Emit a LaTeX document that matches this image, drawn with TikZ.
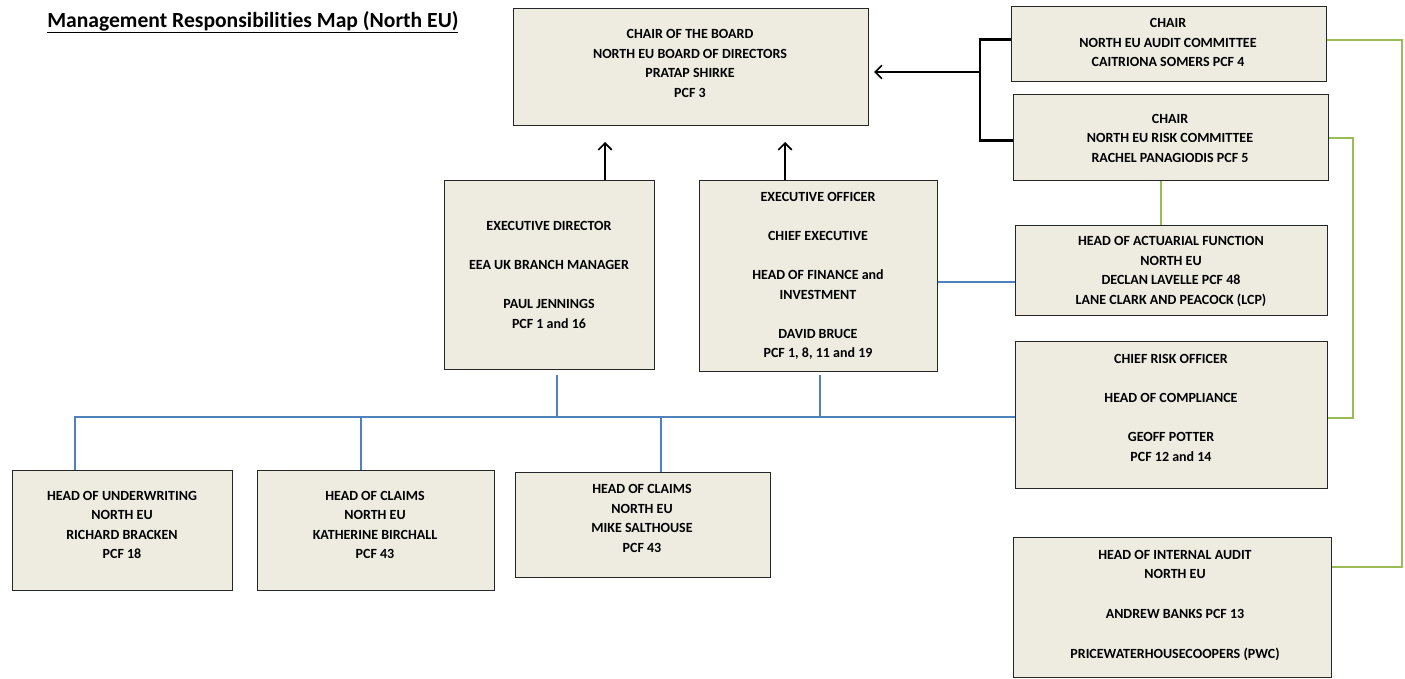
\documentclass[tikz,border=0pt]{standalone}
\usepackage{fontspec}
\setmainfont{Carlito}[Ligatures={NoCommon}]
\usetikzlibrary{arrows.meta}
\definecolor{boxfill}{HTML}{EEECE1}
\definecolor{lblue}{HTML}{4F81BD}
\definecolor{lgreen}{HTML}{9BBB59}
\newcommand\bx[5]{\node[box, anchor=north west, minimum width={(#4-#2)*0.75pt}, minimum height={(#5-#3)*0.75pt}] (#1) at (#2,#3) {};}
\begin{document}
\begin{tikzpicture}[x=0.75pt,y=-0.75pt,
  box/.style={draw=black!85, line width=0.75pt, fill=boxfill, inner sep=0pt},
  txt/.style={align=center, font=\bfseries\fontsize{10.5}{14.6}\selectfont, inner sep=0pt},
  blk/.style={draw=black, line width=1.6pt},
  blu/.style={draw=lblue, line width=1.6pt},
  grn/.style={draw=lgreen, line width=2pt},
  tip/.style={-{Straight Barb[length=5pt,width=10pt,line width=1.3pt]}}]
\useasboundingbox (0,0) rectangle (1405,678);
\fill[white] (0,0) rectangle (1405,678);

\node[anchor=base west, font=\bfseries\fontsize{16.2}{19}\selectfont, inner sep=0pt] (title) at (47,27) {\underline{Management Responsibilities Map (North EU)}};

\bx{board}{513}{8}{868}{125}
\bx{audit}{1011}{6}{1326}{81}
\bx{risk}{1013}{94}{1328}{180}
\bx{ed}{444}{180}{654}{369}
\bx{eo}{699}{180}{937}{371}
\bx{act}{1015}{225}{1327}{315}
\bx{cro}{1015}{341}{1327}{488}
\bx{ia}{1013}{537}{1331}{677}
\bx{uw}{12}{470}{232}{590}
\bx{cone}{257}{470}{494}{590}
\bx{ctwo}{515}{472}{770}{577}

\node[txt] (board-t) at (690,63.5) {CHAIR OF THE BOARD\\NORTH EU BOARD OF DIRECTORS\\PRATAP SHIRKE\\PCF 3};
\node[txt] (audit-t) at (1168,42.5) {CHAIR\\NORTH EU AUDIT COMMITTEE\\CAITRIONA SOMERS PCF 4};
\node[txt] (risk-t) at (1170,138) {CHAIR\\NORTH EU RISK COMMITTEE\\RACHEL PANAGIODIS PCF 5};
\node[txt] (ed-t) at (549,275) {EXECUTIVE DIRECTOR\\[14.6pt]EEA UK BRANCH MANAGER\\[14.6pt]PAUL JENNINGS\\PCF 1 and 16};
\node[txt] (eo-t) at (818,276) {EXECUTIVE OFFICER\\[14.6pt]CHIEF EXECUTIVE\\[14.6pt]HEAD OF FINANCE and\\INVESTMENT\\[14.6pt]DAVID BRUCE\\PCF 1, 8, 11 and 19};
\node[txt] (act-t) at (1171,271.5) {HEAD OF ACTUARIAL FUNCTION\\NORTH EU\\DECLAN LAVELLE PCF 48\\LANE CLARK AND PEACOCK (LCP)};
\node[txt] (cro-t) at (1171,408) {CHIEF RISK OFFICER\\[14.6pt]HEAD OF COMPLIANCE\\[14.6pt]GEOFF POTTER\\PCF 12 and 14};
\node[txt] (ia-t) at (1175,605.5) {HEAD OF INTERNAL AUDIT\\NORTH EU\\[15pt]ANDREW BANKS PCF 13\\[16pt]PRICEWATERHOUSECOOPERS (PWC)};
\node[txt] (uw-t) at (122,525) {HEAD OF UNDERWRITING\\NORTH EU\\RICHARD BRACKEN\\PCF 18};
\node[txt] (cone-t) at (375,525) {HEAD OF CLAIMS\\NORTH EU\\KATHERINE BIRCHALL\\PCF 43};
\node[txt] (ctwo-t) at (642,518.5) {HEAD OF CLAIMS\\NORTH EU\\MIKE SALTHOUSE\\PCF 43};

% black connectors
\coordinate (a1) at (605,142);
\coordinate (a2) at (785,142);
\draw[blk,tip] (a1 |- ed.north) -- (a1);
\draw[blk,tip] (a2 |- eo.north) -- (a2);
\coordinate (br) at (980,72);
\draw[blk] ([yshift=3.4pt]audit.west) -| (br) |- ([yshift=-2.25pt]risk.west);
\draw[blk,tip,shorten >=3.75pt] (br) -- (br -| board.east);

% blue connectors
\coordinate (bl) at (0,282);
\draw[blu] (eo.east |- bl) -- (act.west |- bl);
\coordinate (bus) at (0,417);
\coordinate (d1) at (557,375);
\coordinate (d2) at (820,375);
\coordinate (t1) at (75,0);
\coordinate (t2) at (361,0);
\coordinate (t3) at (661,0);
\draw[blu] (d1) -- (d1 |- bus);
\draw[blu] (d2) -- (d2 |- bus);
\draw[blu] (t1 |- uw.north) -- (t1 |- bus) -- (cro.west |- bus);
\draw[blu] (t2 |- cone.north) -- (t2 |- bus);
\draw[blu] (t3 |- ctwo.north) -- (t3 |- bus);

% green connectors
\coordinate (ga1) at (1402,40);
\coordinate (ga2) at (1402,567);
\draw[grn] (audit.east |- ga1) -- (ga1) -- (ga2) -- (ga2 -| ia.east);
\coordinate (gr1) at (1353,138);
\coordinate (gr2) at (1353,418);
\draw[grn] (risk.east |- gr1) -- (gr1) -- (gr2) -- (gr2 -| cro.east);
\coordinate (gv) at (1161,0);
\draw[grn] (gv |- risk.south) -- (gv |- act.north);
\end{tikzpicture}
\end{document}
